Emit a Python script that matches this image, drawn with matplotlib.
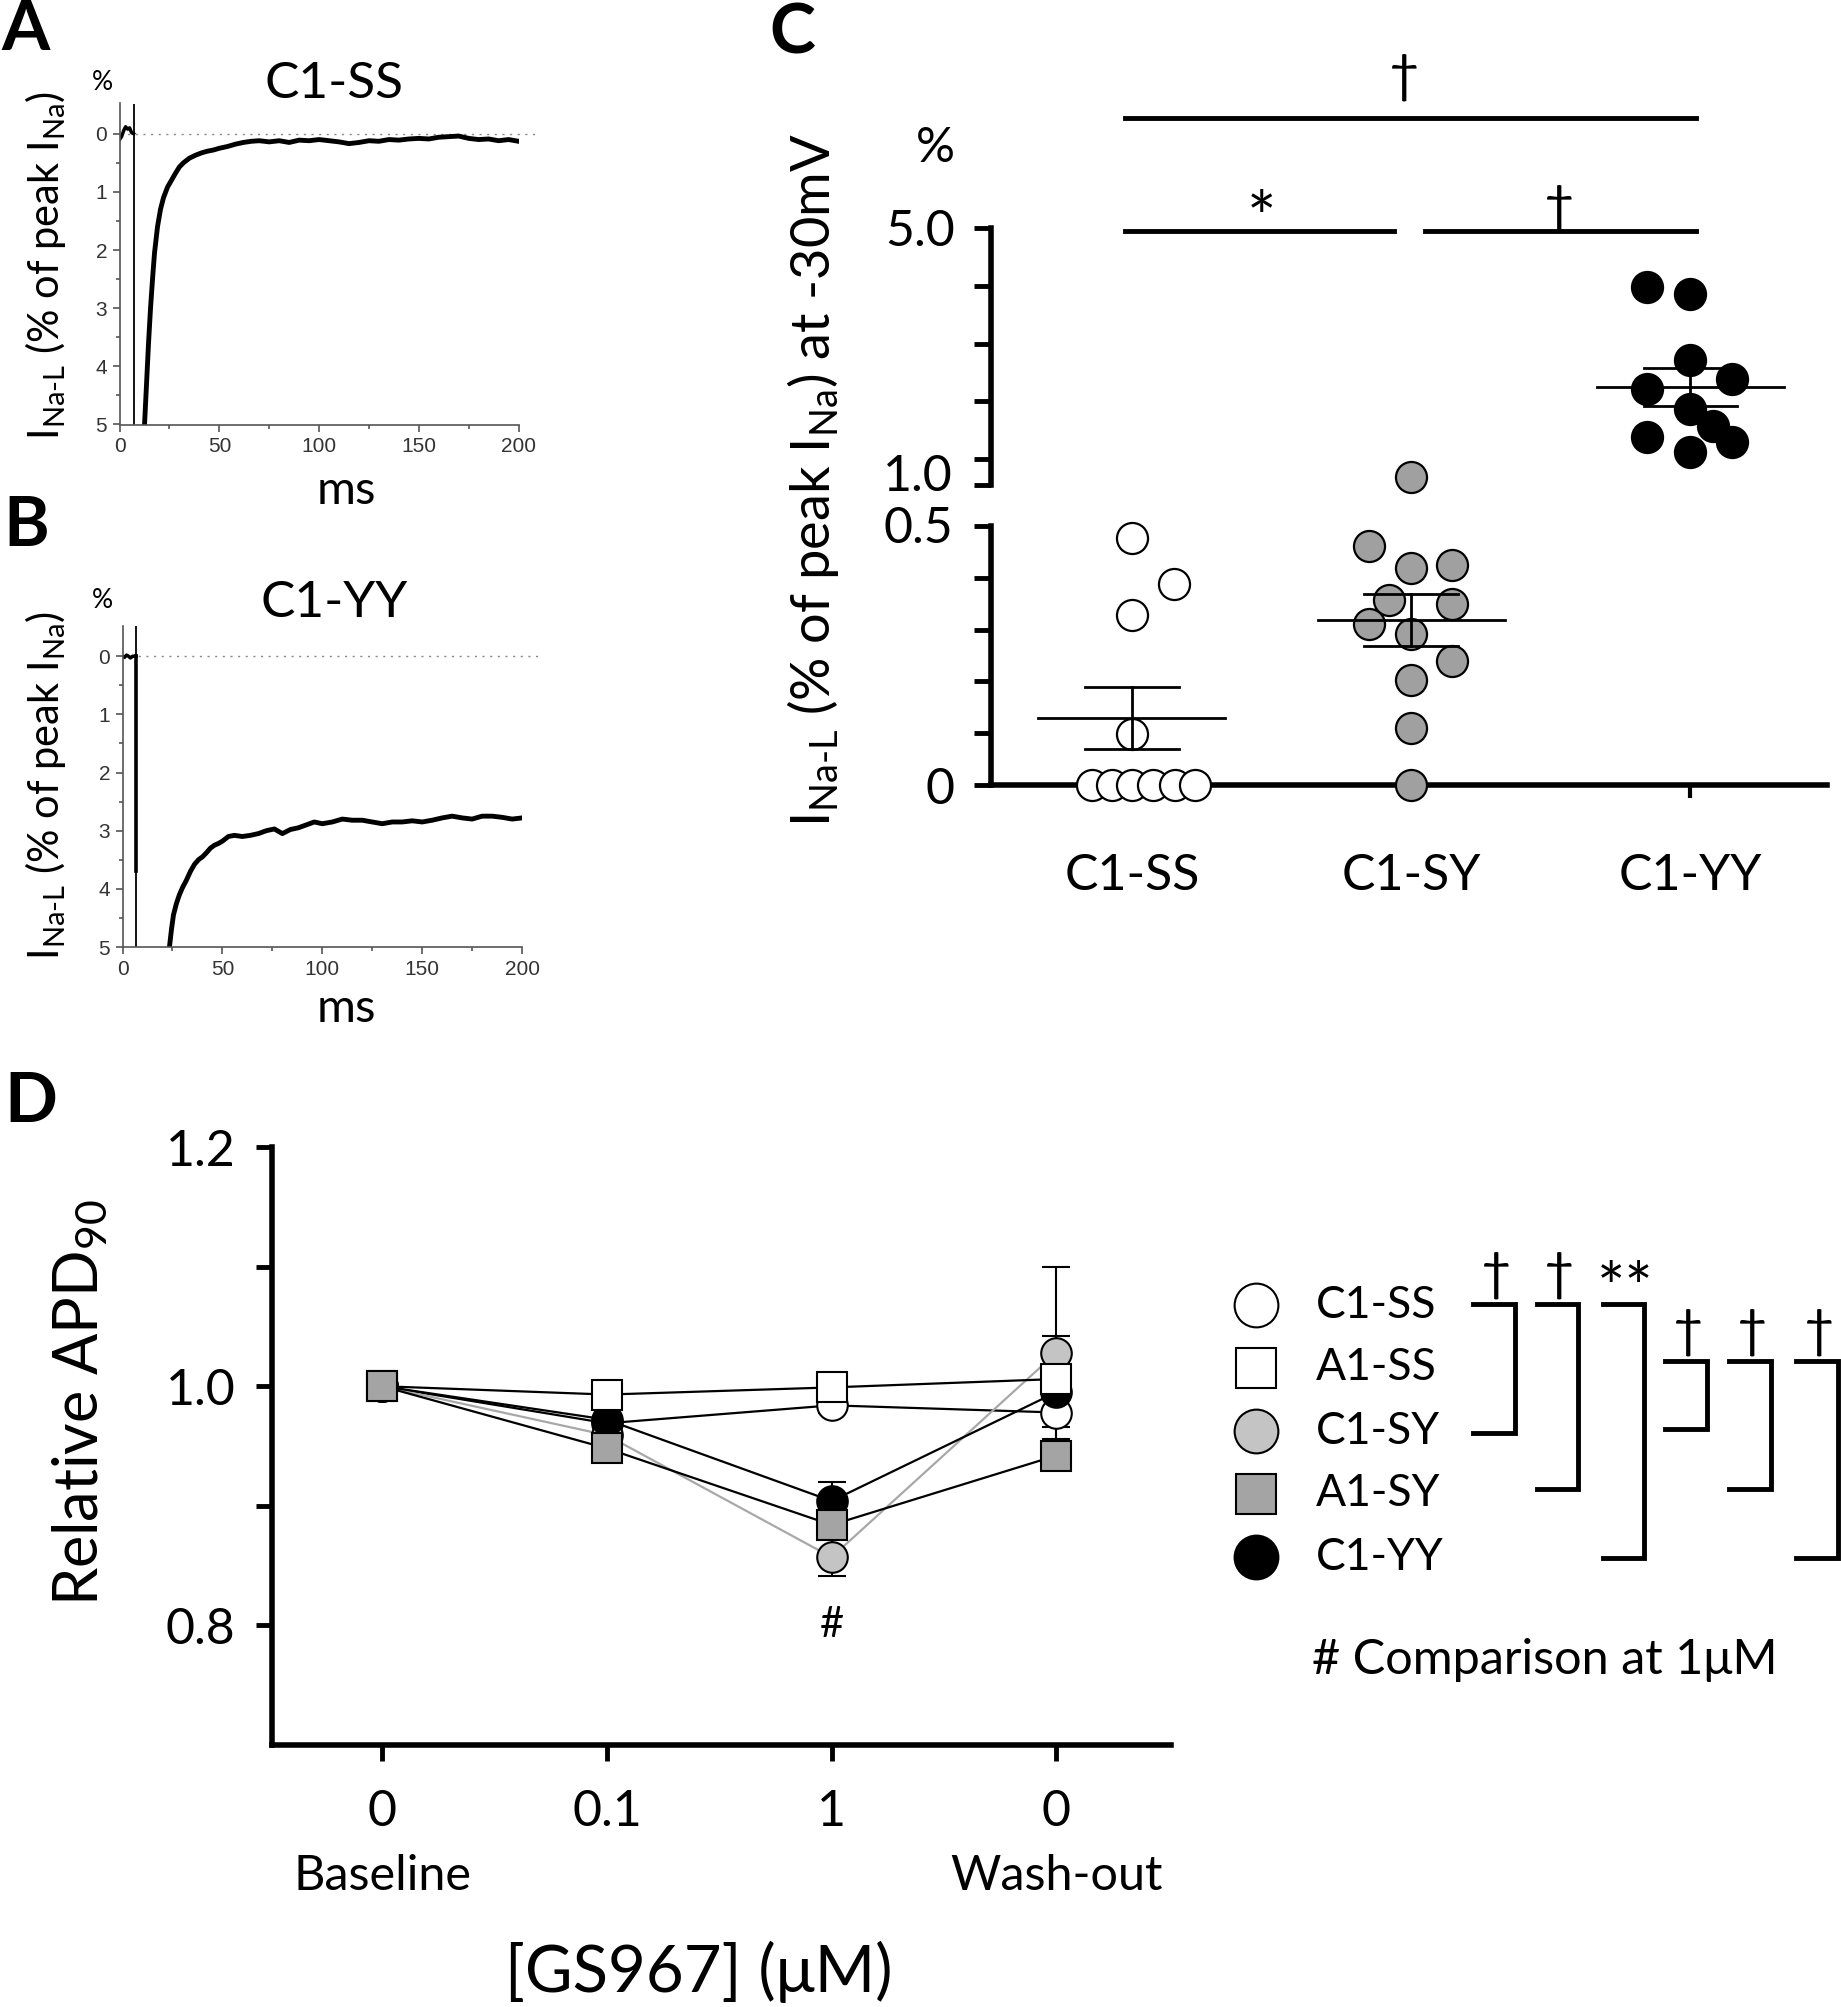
import matplotlib
matplotlib.use('Agg')
import matplotlib.pyplot as plt
from matplotlib.transforms import blended_transform_factory
import numpy as np

plt.rcParams['font.family'] = ['Lato', 'DejaVu Sans']
plt.rcParams['mathtext.fontset'] = 'custom'
plt.rcParams['mathtext.rm'] = 'Lato'
plt.rcParams['mathtext.it'] = 'Lato:italic'
plt.rcParams['mathtext.bf'] = 'Lato:bold'

# ---- panel A: C1-SS late current trace (ms, % of peak INa) ----
ss_pre_t = [0, 1, 2, 3, 4, 5, 6, 7]
ss_pre_v = [0.1, 0.05, -0.05, -0.12, -0.08, -0.1, -0.02, 0.0]
ss_step_t = 7.2
ss_t = [12.5, 13.5, 14.5, 15.5, 16.5, 17.5, 19, 20.5, 22, 24, 26, 28, 30, 32, 35, 38, 41, 44, 47,
        50, 54, 58, 62, 66, 70, 75, 80, 85, 90, 95, 100, 105, 110, 115, 120, 125, 130, 135, 140,
        145, 150, 155, 160, 165, 170, 175, 180, 185, 190, 195, 200]
ss_v = [5.0, 4.3, 3.6, 3.0, 2.5, 2.05, 1.6, 1.3, 1.1, 0.92, 0.8, 0.68, 0.57, 0.5, 0.42, 0.37, 0.33,
        0.3, 0.28, 0.25, 0.22, 0.18, 0.15, 0.13, 0.12, 0.14, 0.12, 0.15, 0.11, 0.12, 0.1, 0.12,
        0.14, 0.17, 0.15, 0.12, 0.13, 0.1, 0.11, 0.09, 0.08, 0.09, 0.06, 0.05, 0.04, 0.08, 0.1,
        0.09, 0.12, 0.1, 0.13]

# ---- panel B: C1-YY late current trace ----
yy_pre_t = [0, 1, 2, 3, 4, 5, 6, 6.8]
yy_pre_v = [0.0, 0.02, -0.02, 0.0, 0.03, 0.0, 0.0, 0.0]
yy_step_t = 6.8
yy_step_v = 3.7
yy_t = [23.5, 24.5, 25.5, 27, 28.5, 30, 32, 34, 36, 38, 40, 42, 44, 46, 48, 50, 53, 56, 60, 64, 68,
        72, 76, 80, 84, 88, 92, 96, 100, 105, 110, 115, 120, 125, 130, 135, 140, 145, 150, 155,
        160, 165, 170, 175, 180, 185, 190, 195, 200]
yy_v = [5.0, 4.7, 4.45, 4.25, 4.1, 3.98, 3.85, 3.7, 3.58, 3.5, 3.45, 3.38, 3.3, 3.25, 3.22, 3.18,
        3.1, 3.08, 3.1, 3.08, 3.05, 3.0, 2.97, 3.05, 2.98, 2.95, 2.9, 2.85, 2.88, 2.85, 2.8, 2.82,
        2.82, 2.85, 2.88, 2.85, 2.85, 2.83, 2.85, 2.82, 2.78, 2.75, 2.78, 2.8, 2.75, 2.75, 2.77,
        2.8, 2.78]

# ---- panel C: INa-L at -30 mV ----
groups = ['C1-SS', 'C1-SY', 'C1-YY']
c_ss = [0.477, 0.388, 0.328, 0.098, 0, 0, 0, 0, 0, 0]
c_ss_jit = [0, 0.15, 0, 0, -0.144, -0.072, 0, 0.076, 0.154, 0.226]
c_sy = [1.13, 0.461, 0.419, 0.425, 0.358, 0.349, 0.31, 0.292, 0.239, 0.203, 0.111, 0.0]
c_sy_jit = [0, -0.15, 0, 0.145, -0.078, 0.145, -0.15, 0, 0.145, 0, 0, 0]
c_yy = [4.08, 3.97, 2.94, 2.65, 2.49, 2.19, 1.92, 1.74, 1.67, 1.51]
c_yy_jit = [-0.156, 0, 0, 0.148, -0.156, 0, 0.081, -0.156, 0.148, 0]
c_mean = [0.129, 0.319, 2.52]
c_sem = [0.06, 0.05, 0.295]

# ---- panel D: relative APD90 vs GS967 ----
doses = ['0', '0.1', '1', '0']
d_c1ss = [1.0, 0.969, 0.984, 0.978]
d_c1ss_err = [0, 0.006, 0.006, 0.012]
d_a1ss = [1.0, 0.993, 0.999, 1.006]
d_a1ss_err = [0, 0.005, 0.005, 0.01]
d_c1sy = [1.0, 0.959, 0.857, 1.028]
d_c1sy_err = [0, 0.01, 0.016, 0.072]
d_a1sy = [1.0, 0.948, 0.884, 0.942]
d_a1sy_err = [0, 0.006, 0.01, 0.01]
d_c1yy = [1.0, 0.972, 0.904, 0.995]
d_c1yy_err = [0, 0.008, 0.016, 0.047]

W, H = 1841, 2007
fig = plt.figure(figsize=(W / 100, H / 100), dpi=100)


def rect(x0, y0, x1, y1):
    # pixel box (top-left origin) -> figure fraction
    return [x0 / W, 1 - y1 / H, (x1 - x0) / W, (y1 - y0) / H]


ov = fig.add_axes([0, 0, 1, 1])
ov.set_xlim(0, W)
ov.set_ylim(H, 0)
ov.axis('off')

na_l = 'I$_{\\text{Na-L}}$'
na = 'I$_{\\text{Na}}$'


def trace_axes(r, pre_t, pre_v, step_x, t, v, ytop):
    ax = fig.add_axes(r)
    ax.patch.set_visible(False)
    ax.set_xlim(0, 200)
    ax.set_ylim(5, ytop)
    ax.spines[['top', 'right']].set_visible(False)
    for s in ['left', 'bottom']:
        ax.spines[s].set_color('#555555')
        ax.spines[s].set_linewidth(1.2)
    ax.set_xticks(range(0, 201, 50))
    ax.set_xticks(range(25, 200, 50), minor=True)
    ax.set_yticks(range(6))
    ax.set_yticks(np.arange(0.5, 5, 1), minor=True)
    ax.tick_params(which='both', direction='out', color='#555555', width=1.2,
                   labelsize=15, labelcolor='#333333', labelfontfamily='Liberation Sans')
    ax.tick_params(which='major', length=5, pad=4)
    ax.tick_params(which='minor', length=3)
    ax.plot([0, 208], [0, 0], color='#888888', lw=1, ls=(0, (1.5, 4)), clip_on=False)
    ax.plot(pre_t, pre_v, color='k', lw=2.5)
    ax.plot([step_x, step_x], [ytop, 5], color='k', lw=1.3)
    ax.plot(t, v, color='k', lw=3.5)
    return ax


trace_axes(rect(119.6, 103.5, 518.6, 424.5), ss_pre_t, ss_pre_v, ss_step_t, ss_t, ss_v, -0.52)
axb = trace_axes(rect(122.5, 626, 522.1, 947), yy_pre_t, yy_pre_v, yy_step_t, yy_t, yy_v, -0.52)
axb.plot([yy_step_t, yy_step_t], [0, yy_step_v], color='k', lw=2.6)

for yc, ttl, ymid, ms_y in [(84, 'C1-SS', 265, 491), (603, 'C1-YY', 785, 1009)]:
    ov.text(334, yc, ttl, fontsize=37, ha='center', va='center')
    ov.text(102, yc - 2, '%', fontsize=19, ha='center', va='center')
    ov.text(346, ms_y, 'ms', fontsize=34, ha='center', va='center')
    ov.text(46, ymid, na_l + ' (% of peak ' + na + ')', fontsize=30, rotation=90,
            ha='center', va='center')

# ---- panel C ----
axl = fig.add_axes(rect(991, 526, 1827, 785))
axu = fig.add_axes(rect(991, 228, 1827, 485))
for a in (axl, axu):
    a.set_xlim(-0.505, 2.49)
    a.patch.set_visible(False)
    a.spines[['top', 'right']].set_visible(False)
    a.spines['left'].set_linewidth(4)
    a.tick_params(axis='y', length=12, width=3.5, labelsize=36, pad=14)
axl.set_ylim(0, 0.5)
axu.set_ylim(1.0, 5.0)
axu.spines['bottom'].set_visible(False)
axl.spines['bottom'].set_linewidth(4)
axl.set_yticks(np.arange(0, 0.51, 0.1))
axl.set_yticklabels(['0', '', '', '', '', ''])
axu.set_yticks([1.0, 1.4, 2.3, 3.2, 4.1, 5.0])
axu.set_yticklabels(['', '', '', '', '', '5.0'])
# the two labels at the axis break sit slightly apart from their ticks
axl.text(-0.0455, 0.494, '0.5', transform=blended_transform_factory(axl.transAxes, axl.transData),
         fontsize=36, ha='right', va='center')
axu.text(-0.0455, 1.125, '1.0', transform=blended_transform_factory(axu.transAxes, axu.transData),
         fontsize=36, ha='right', va='center')
axu.set_xticks([])
axl.set_xticks(range(3))
axl.set_xticklabels(groups)
axl.tick_params(axis='x', length=9, width=3, labelsize=36, pad=40)

c_faces = ['white', '#a0a0a0', 'black']
for i, (vals, jit) in enumerate([(c_ss, c_ss_jit), (c_sy, c_sy_jit), (c_yy, c_yy_jit)]):
    for v, dx in zip(vals, jit):
        a = axu if v > 0.75 else axl
        a.scatter(i + dx, v, s=500, facecolor=c_faces[i], edgecolor='k', linewidth=1.6,
                  clip_on=False, zorder=3)
    m, e = c_mean[i], c_sem[i]
    a = axu if m > 0.75 else axl
    a.plot([i - 0.335, i + 0.335], [m, m], color='k', lw=2, zorder=4, clip_on=False)
    a.plot([i - 0.167, i + 0.167], [m + e, m + e], color='k', lw=2, zorder=4)
    a.plot([i - 0.167, i + 0.167], [m - e, m - e], color='k', lw=2, zorder=4)
    a.plot([i, i], [m - e, m + e], color='k', lw=2, zorder=4)

# significance bars
axu.plot([-0.025, 2.02], [6.71, 6.71], color='k', lw=3.5, clip_on=False)
axu.plot([-0.025, 0.94], [4.95, 4.95], color='k', lw=3.5, clip_on=False)
axu.plot([1.05, 2.02], [4.95, 4.95], color='k', lw=3.5, clip_on=False)
axu.text(0.975, 7.35, '\u2020', fontsize=38, ha='center', va='center', clip_on=False)
axu.text(0.465, 5.08, '*', fontsize=50, ha='center', va='center', clip_on=False)
axu.text(1.53, 5.3, '\u2020', fontsize=38, ha='center', va='center', clip_on=False)
axu.text(-0.705, 6.25, '%', fontsize=35, ha='center', va='center', clip_on=False)
ov.text(813, 480, na_l + ' (% of peak ' + na + ') at -30mV', fontsize=39, rotation=90,
        ha='center', va='center')

# ---- panel D ----
axd = fig.add_axes(rect(272, 1147, 1171, 1745))
axd.patch.set_visible(False)
axd.set_xlim(-0.49, 3.51)
axd.set_ylim(0.7, 1.2)
axd.spines[['top', 'right']].set_visible(False)
for s in ['left', 'bottom']:
    axd.spines[s].set_linewidth(4)
axd.set_yticks([0.8, 0.9, 1.0, 1.1, 1.2])
axd.set_yticklabels(['0.8', '', '1.0', '', '1.2'])
axd.set_xticks(range(4))
axd.set_xticklabels(doses)
axd.tick_params(axis='both', length=11.5, width=3.5, labelsize=36)
axd.tick_params(axis='y', pad=15)
axd.tick_params(axis='x', pad=20)

xs = np.arange(4)
series = [
    (d_c1ss, d_c1ss_err, 'o', 'white', 'k', 22),
    (d_c1sy, d_c1sy_err, 'o', '#c4c4c4', '#a8a8a8', 22),
    (d_c1yy, d_c1yy_err, 'o', 'black', 'k', 22),
    (d_a1ss, d_a1ss_err, 's', 'white', 'k', 21),
    (d_a1sy, d_a1sy_err, 's', '#a4a4a4', 'k', 21),
]
for vals, err, mk, fc, lc, ms in series:
    axd.errorbar(xs, vals, yerr=err, fmt='none', ecolor='k', elinewidth=1.5, capsize=10,
                 capthick=1.5, zorder=2)
    axd.plot(xs, vals, color=lc, lw=1.6, zorder=2)
for k, (vals, err, mk, fc, lc, ms) in enumerate(series):
    axd.plot(xs, vals, ls='none', marker=mk, ms=ms, mfc=fc, mec='k', mew=1.5, zorder=3 + k)

bt = blended_transform_factory(axd.transData, axd.transAxes)
axd.text(0, -0.219, 'Baseline', transform=bt, fontsize=35, ha='center', va='center')
axd.text(3, -0.219, 'Wash-out', transform=bt, fontsize=35, ha='center', va='center')
axd.text(2, 0.80, '#', fontsize=30, ha='center', va='center')
ov.text(699, 1972, '[GS967] (\u03bcM)', fontsize=47, ha='center', va='center')
ov.text(80, 1403, 'Relative APD$_{90}$', fontsize=44, rotation=90, ha='center', va='center')

# legend
leg_y = [1305, 1368, 1431, 1494, 1557]
leg_names = ['C1-SS', 'A1-SS', 'C1-SY', 'A1-SY', 'C1-YY']
leg_style = [('o', 'white', 31.5), ('s', 'white', 29), ('o', '#c4c4c4', 31.5),
             ('s', '#a4a4a4', 29), ('o', 'black', 31.5)]
for y, name, (mk, fc, ms) in zip(leg_y, leg_names, leg_style):
    ov.plot([1256], [y], marker=mk, ms=ms, mfc=fc, mec='k', mew=1.5, ls='none')
    ov.text(1316, y, name, fontsize=32, ha='left', va='center')
ov.text(1312, 1660, '# Comparison at 1\u03bcM', fontsize=35, ha='left', va='center')

# comparison brackets
brackets = [(1473, 1515, 1304, 1433, '\u2020'), (1537, 1578, 1304, 1489, '\u2020'),
            (1603, 1644, 1304, 1558, '**'), (1665, 1707, 1361, 1429, '\u2020'),
            (1729, 1771, 1361, 1489, '\u2020'), (1796, 1838, 1361, 1558, '\u2020')]
for x0, x1, y0, y1, sym in brackets:
    ov.plot([x0, x1, x1, x0], [y0, y0, y1, y1], color='k', lw=3.5, solid_joinstyle='miter')
    if sym == '**':
        ov.text(1625, 1292, sym, fontsize=48, ha='center', va='center')
    else:
        ov.text((x0 + x1) / 2 + 2, y0 - 29, sym, fontsize=38, ha='center', va='center')

# panel letters
for x, y, L in [(26, 31, 'A'), (26, 527, 'B'), (792, 34, 'C'), (31, 1103, 'D')]:
    ov.text(x, y, L, fontsize=50, fontweight='bold', ha='center', va='center')

fig.savefig('out.png', dpi=100)
